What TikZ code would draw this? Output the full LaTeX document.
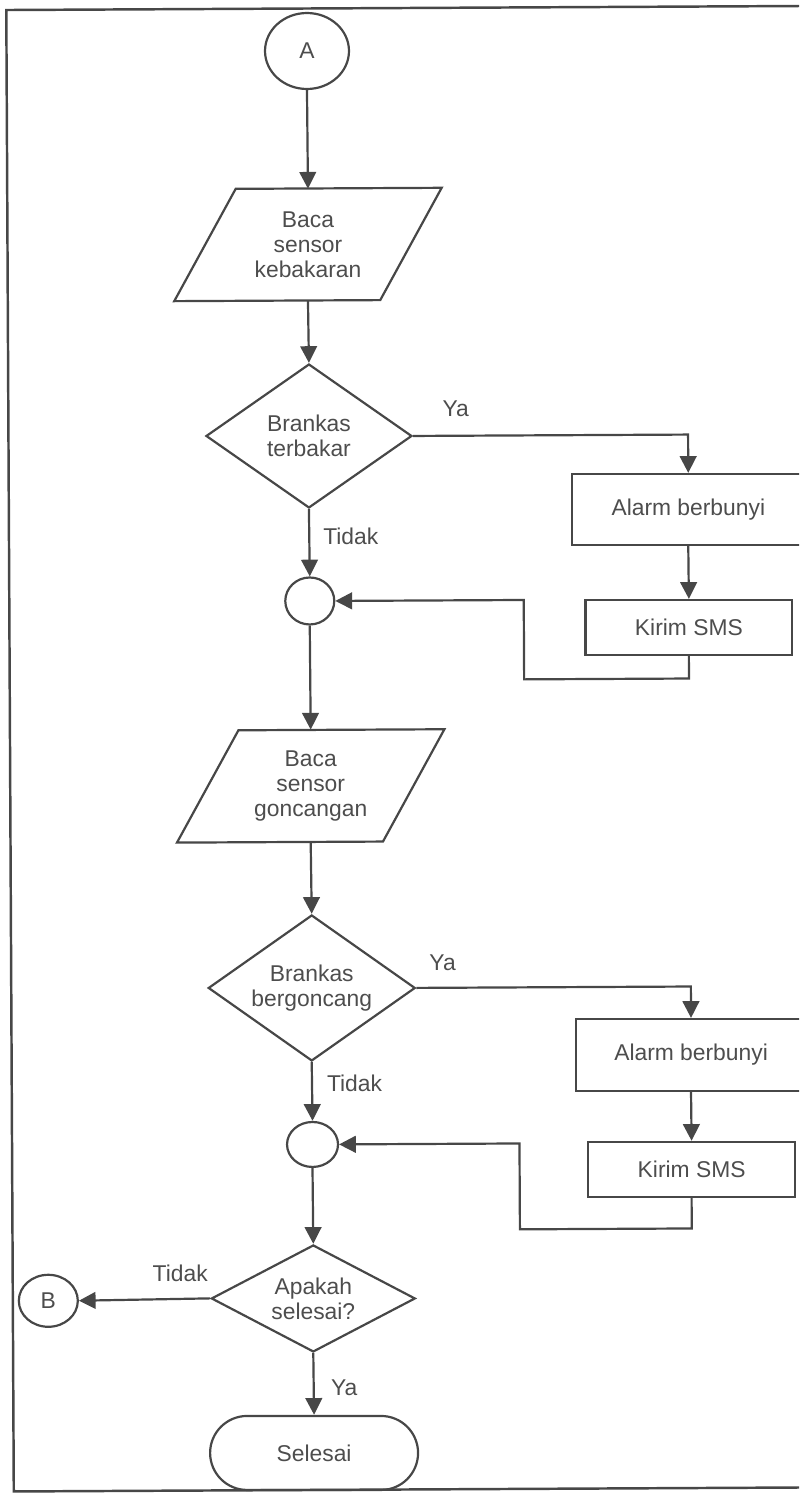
\documentclass[tikz,border=0pt]{standalone}
\usepackage{fontspec}
\setmainfont{Liberation Sans}
\usetikzlibrary{shapes.geometric,shapes.misc,arrows.meta}
\definecolor{ink}{HTML}{474747}
\definecolor{inktext}{HTML}{4D4D4D}

\begin{document}
\begin{tikzpicture}[x=0.02cm,y=-0.02cm,
  every node/.style={text=inktext,font=\fontsize{13pt}{14.2pt}\selectfont,inner sep=0pt,align=center},
  line/.style={draw=ink,line width=1.25pt},
  flow/.style={line,-{Triangle[length=9.5pt,width=9.5pt]}},
  joint/.style={line,ellipse},
  decision/.style={line,diamond},
  process/.style={line,rectangle},
  terminal/.style={line,rounded rectangle}]

\path[use as bounding box,clip] (0,0) rectangle (799,1493);

\begin{scope}[rotate around={0.29:(308,51)}]

% frame
\draw[line,line width=1.4pt] (6.5,8.5) rectangle (840,1490);

% first sensor
\node[joint,minimum width=1.68cm,minimum height=1.52cm] (A) at (307,51) {A};
\node[minimum height=2.22cm] (baca1) at (307,244.5) {Baca\\sensor\\kebakaran};
\node[decision,aspect=1.4,minimum width=4.12cm,minimum height=2.88cm] (d1) at (307,436) {Brankas\\terbakar};
\node[process,minimum width=4.66cm,minimum height=1.42cm] (alarm1) at (686,511.4) {Alarm berbunyi};
\node[process,minimum width=4.14cm,minimum height=1.1cm] (sms1) at (686,629.4) {Kirim SMS};
\node[joint,minimum width=0.98cm,minimum height=0.94cm] (m1) at (307,601) {};
\coordinate (back1) at (521,680.5);

% second sensor
\node[minimum height=2.24cm] (baca2) at (307,786) {Baca\\sensor\\goncangan};
\node[decision,aspect=1.4,minimum width=4.14cm,minimum height=2.92cm] (d2) at (307,988) {Brankas\\bergoncang};
\node[process,minimum width=4.6cm,minimum height=1.44cm] (alarm2) at (686,1057) {Alarm berbunyi};
\node[process,minimum width=4.14cm,minimum height=1.1cm] (sms2) at (686,1171.4) {Kirim SMS};
\node[joint,minimum width=1.02cm,minimum height=0.9cm] (m2) at (307,1144.5) {};
\coordinate (back2) at (514,1230.5);

% end
\node[decision,aspect=2,minimum width=4.08cm,minimum height=2.14cm] (d3) at (307,1298.5) {Apakah\\selesai?};
\node[joint,minimum width=1.18cm,minimum height=1.04cm] (B) at (42,1299.5) {B};
\node[terminal,minimum width=4.16cm,minimum height=1.48cm] (selesai) at (307,1453) {Selesai};

\foreach \n in {baca1,baca2}
  \draw[line] ([shift={(-72,-56)}]\n.center) -- ([shift={(134,-56)}]\n.center)
    -- ([shift={(72,56)}]\n.center) -- ([shift={(-134,56)}]\n.center) -- cycle;

\draw[flow] (A.south) -- (baca1.north);
\draw[flow] (baca1.south) -- (d1.north);
\draw[flow] (d1.east) -| (alarm1.north);
\draw[flow] (alarm1.south) -- (sms1.north);
\draw[flow] (d1.south) -- (m1.north);
\draw[flow] (sms1.south) |- (back1) |- (m1.east);
\draw[flow] (m1.south) -- (baca2.north);
\draw[flow] (baca2.south) -- (d2.north);
\draw[flow] (d2.east) -| (alarm2.north);
\draw[flow] (alarm2.south) -- (sms2.north);
\draw[flow] (d2.south) -- (m2.north);
\draw[flow] (sms2.south) |- (back2) |- (m2.east);
\draw[flow] (m2.south) -- (d3.north);
\draw[flow] (d3.west) -- (B.east);
\draw[flow] (d3.south) -- (selesai.north);

% labels
\node (ya1) at (454,410) {Ya};
\node[anchor=west] (tidak1) at (320.5,536) {Tidak};
\node (ya2) at (438,963) {Ya};
\node[anchor=west] (tidak2) at (321.5,1083) {Tidak};
\node (tidak3) at (174,1272.5) {Tidak};
\node[anchor=west] (ya3) at (324,1388) {Ya};

\end{scope}
\end{tikzpicture}
\end{document}
